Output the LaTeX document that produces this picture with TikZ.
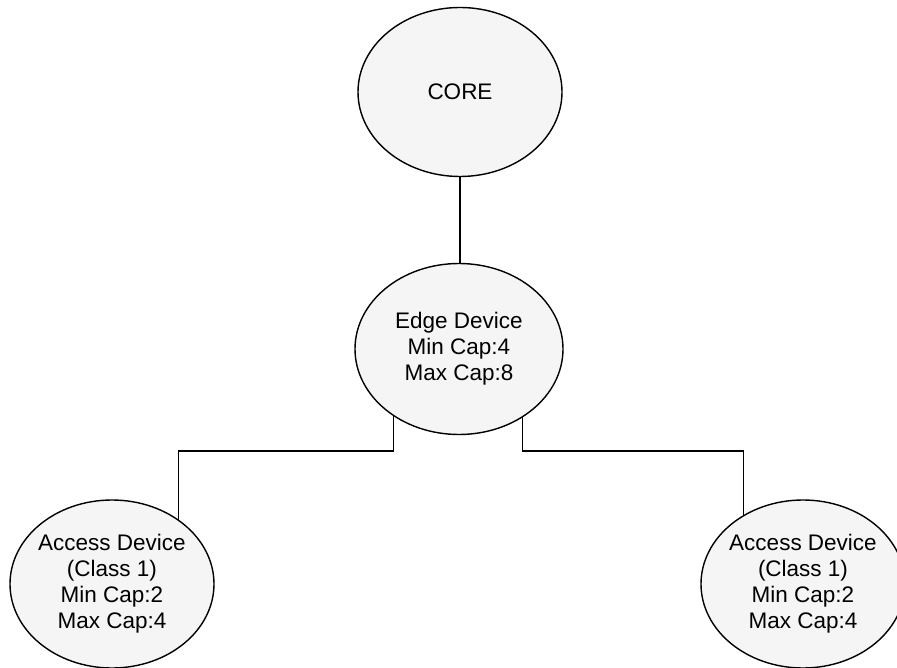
\documentclass[tikz,border=0pt]{standalone}
\usepackage{fontspec}
\setmainfont{Liberation Sans}
\usetikzlibrary{shapes.geometric}

\tikzset{
  devnode/.style={ellipse, draw=black, line width=1.4pt, fill=black!4, inner sep=0pt},
  devtext/.style={align=center, inner sep=0pt, font=\fontsize{22.5}{26}\selectfont},
  link/.style={draw=black, line width=1.2pt}
}

\begin{document}
\begin{tikzpicture}[x=1pt, y=-1pt]
  \useasboundingbox (0,0) rectangle (897,668);

  % network hierarchy: core, edge device, two access devices
  \node[devnode, minimum width=204pt, minimum height=169pt] (core) at (460,92) {};
  \node[devtext] (coretext) at (core) {CORE};

  \node[devnode, minimum width=208pt, minimum height=171pt] (edge) at (459,349) {};
  \node[devtext] (edgetext) at (edge) {Edge Device\\Min Cap:4\\Max Cap:8};

  \node[devnode, minimum width=204pt, minimum height=168pt] (accl) at (112,584) {};
  \node[devtext] (accltext) at (accl) {Access Device\\(Class 1)\\Min Cap:2\\Max Cap:4};

  \node[devnode, minimum width=204pt, minimum height=168pt] (accr) at (803,584) {};
  \node[devtext] (accrtext) at (accr) {Access Device\\(Class 1)\\Min Cap:2\\Max Cap:4};

  % connectors
  \coordinate (bus) at (459,451);
  \draw[link] (core.south) -- (core.south |- edge.north);
  \draw[link] (edge.226.5) -- (edge.226.5 |- bus) -- (accl.44.9 |- bus) -- (accl.44.9);
  \draw[link] (edge.313.5) -- (edge.313.5 |- bus) -- (accr.131.4 |- bus) -- (accr.131.4);
\end{tikzpicture}
\end{document}
